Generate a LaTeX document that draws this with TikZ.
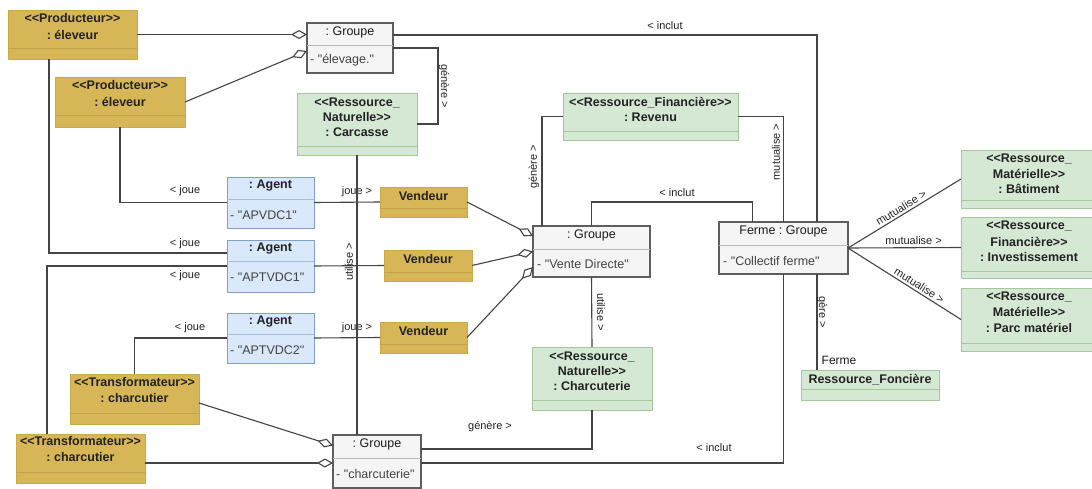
\documentclass[tikz,border=0pt]{standalone}
\usepackage{fontspec}
\setmainfont{Liberation Sans}[Ligatures=TeXOff]
\usetikzlibrary{arrows.meta,calc}
\definecolor{goldf}{HTML}{D6B656}
\definecolor{goldd}{HTML}{C9A94A}
\definecolor{goldsep}{HTML}{C2A24A}
\definecolor{greenf}{HTML}{D5E8D4}
\definecolor{greend}{HTML}{A6C79C}
\definecolor{bluef}{HTML}{DAE8FC}
\definecolor{blued}{HTML}{7F9FCC}
\definecolor{greyf}{HTML}{F5F5F5}
\definecolor{greyd}{HTML}{5E5E5E}
\definecolor{linec}{HTML}{444444}
\definecolor{txtc}{HTML}{222222}
\newcommand\obox[6]{\node[#1,minimum width={#5pt-#3pt},minimum height={#6pt-#4pt}] (#2) at (#3,#4) {};}
\newcommand\osep[3]{\draw[#3] (#1.west |- 0,#2) -- (#1.east |- 0,#2);}
\begin{document}
\frenchspacing
\begin{tikzpicture}[x=1pt,y=-1pt,
  objbox/.style={anchor=north west,inner sep=0pt,outer sep=0pt},
  goldbox/.style={objbox,fill=goldf,draw=goldd,line width=0.6pt},
  greenbox/.style={objbox,fill=greenf,draw=greend,line width=0.8pt},
  bluebox/.style={objbox,fill=bluef,draw=blued,line width=0.8pt},
  greybox/.style={objbox,fill=greyf,draw=greyd,line width=1.3pt},
  gsep/.style={draw=goldsep,line width=0.8pt},
  grsep/.style={draw=greend,line width=0.8pt},
  bsep/.style={draw=blued!70,line width=0.7pt},
  gysep/.style={draw=greyd!45,line width=0.8pt},
  hdr/.style={inner sep=0pt,yshift=-1.5pt,text=txtc,font=\fontsize{12.5}{14}\selectfont\bfseries},
  hdrn/.style={inner sep=0pt,yshift=-1.5pt,text=txtc!80!black,font=\fontsize{12.5}{14}\selectfont},
  attr/.style={inner sep=0pt,yshift=-1.5pt,anchor=west,text=txtc!85,font=\fontsize{12.5}{14}\selectfont},
  lbl/.style={inner sep=0pt,text=txtc,font=\fontsize{11}{13}\selectfont},
  conn/.style={draw=linec,line width=1.1pt},
  agg/.style={conn,-{Diamond[open,length=16pt,width=9pt,line width=1.1pt]}}
]
\useasboundingbox (0,0) rectangle (1092,489);
\fill[white] (0,0) rectangle (1092,489);

% ---------- boxes ----------
% Producteurs
\obox{goldbox}{p1}{8}{10}{137}{59}
\osep{p1}{48}{gsep}
\node[hdr] (p1a) at (p1.north |- 0,17) {<<Producteur>>};
\node[hdr] (p1b) at (p1.north |- 0,33) {: éleveur};
\obox{goldbox}{p2}{55}{77}{185}{127}
\osep{p2}{115}{gsep}
\node[hdr] (p2a) at (p2.north |- 0,84) {<<Producteur>>};
\node[hdr] (p2b) at (p2.north |- 0,100) {: éleveur};
% Groupe elevage
\obox{greybox}{g1}{307}{23}{393}{73}
\osep{g1}{45}{gysep}
\node[hdrn] (g1a) at (g1.north |- 0,31) {: Groupe};
\node[attr] (g1b) at (310,59) {- "élevage."};
% Carcasse
\obox{greenbox}{carc}{297}{93}{417}{155}
\osep{carc}{146}{grsep}
\node[hdr] (carca) at (carc.north |- 0,101) {<<Ressource\_};
\node[hdr] (carcb) at (carc.north |- 0,116) {Naturelle>>};
\node[hdr] (carcc) at (carc.north |- 0,131) {: Carcasse};
% Revenu
\obox{greenbox}{rev}{563}{93}{738}{140}
\osep{rev}{131}{grsep}
\node[hdr] (reva) at (rev.north |- 0,101) {<<Ressource\_Financière>>};
\node[hdr] (revb) at (rev.north |- 0,116) {: Revenu};
% Agents
\obox{bluebox}{a1}{227}{177}{314}{228}
\osep{a1}{199}{bsep}
\node[hdr] (a1a) at (a1.north |- 0,184) {: Agent};
\node[attr] (a1b) at (230,214) {- "APVDC1"};
\obox{bluebox}{a2}{227}{240}{314}{292}
\osep{a2}{261}{bsep}
\node[hdr] (a2a) at (a2.north |- 0,247) {: Agent};
\node[attr] (a2b) at (230,276) {- "APTVDC1"};
\obox{bluebox}{a3}{227}{313}{314}{363}
\osep{a3}{334}{bsep}
\node[hdr] (a3a) at (a3.north |- 0,320) {: Agent};
\node[attr] (a3b) at (230,349) {- "APTVDC2"};
% Vendeurs
\obox{goldbox}{v1}{380}{187}{467}{217}
\osep{v1}{208}{gsep}
\node[hdr] (v1a) at (v1.north |- 0,195) {Vendeur};
\obox{goldbox}{v2}{384}{250}{472}{281}
\osep{v2}{272}{gsep}
\node[hdr] (v2a) at (v2.north |- 0,258) {Vendeur};
\obox{goldbox}{v3}{380}{322}{467}{353}
\osep{v3}{344}{gsep}
\node[hdr] (v3a) at (v3.north |- 0,330) {Vendeur};
% Groupe vente directe
\obox{greybox}{gv}{533}{226}{650}{277}
\osep{gv}{249}{gysep}
\node[hdrn] (gva) at (gv.north |- 0,234) {: Groupe};
\node[attr] (gvb) at (537,263) {- "Vente Directe"};
% Charcuterie
\obox{greenbox}{charc}{532}{347}{652}{410}
\osep{charc}{400}{grsep}
\node[hdr] (charca) at (charc.north |- 0,355) {<<Ressource\_};
\node[hdr] (charcb) at (charc.north |- 0,370) {Naturelle>>};
\node[hdr] (charcc) at (charc.north |- 0,385) {: Charcuterie};
% Ferme
\obox{greybox}{ferme}{719}{222}{848}{274}
\osep{ferme}{245}{gysep}
\node[hdrn] (fermea) at (ferme.north |- 0,230) {Ferme : Groupe};
\node[attr] (fermeb) at (723,260) {- "Collectif ferme"};
% Ressource fonciere
\obox{greenbox}{rf}{801}{370}{939}{400}
\osep{rf}{389}{grsep}
\node[hdr] (rfa) at (rf.north |- 0,378) {Ressource\_Foncière};
% Right resources
\obox{greenbox}{bat}{961}{150}{1096}{208}
\osep{bat}{200}{grsep}
\node[hdr] (bata) at (1029,157) {<<Ressource\_};
\node[hdr] (batb) at (1029,172) {Matérielle>>};
\node[hdr] (batc) at (1029,187) {: Bâtiment};
\obox{greenbox}{inv}{961}{217}{1096}{278}
\osep{inv}{271}{grsep}
\node[hdr] (inva) at (1029,224) {<<Ressource\_};
\node[hdr] (invb) at (1029,240) {Financière>>};
\node[hdr] (invc) at (1029,256) {: Investissement};
\obox{greenbox}{parc}{961}{288}{1096}{351}
\osep{parc}{343}{grsep}
\node[hdr] (parca) at (1029,295) {<<Ressource\_};
\node[hdr] (parcb) at (1029,310) {Matérielle>>};
\node[hdr] (parcc) at (1029,326) {: Parc matériel};
% Transformateurs
\obox{goldbox}{t1}{70}{374}{199}{424}
\osep{t1}{413}{gsep}
\node[hdr] (t1a) at (t1.north |- 0,381) {<<Transformateur>>};
\node[hdr] (t1b) at (t1.north |- 0,397) {: charcutier};
\obox{goldbox}{t2}{16}{434}{145}{483}
\osep{t2}{472}{gsep}
\node[hdr] (t2a) at (t2.north |- 0,440) {<<Transformateur>>};
\node[hdr] (t2b) at (t2.north |- 0,456) {: charcutier};
% Groupe charcuterie
\obox{greybox}{gc}{333}{435}{421}{488}
\osep{gc}{458}{gysep}
\node[hdrn] (gca) at (gc.north |- 0,443) {: Groupe};
\node[attr] (gcb) at (336,473) {- "charcuterie"};

% ---------- connectors ----------
\coordinate (cInclTop) at ($(ferme.north)+(33.5,0)$);
\coordinate (cInclMid) at ($(ferme.north)+(-31,0)$);
\coordinate (cGere) at ($(ferme.south)+(33.5,0)$);

% aggregations
\draw[agg] (p1.east) -- (g1.west |- p1.east);
\draw[agg] (p2.east) -- ([yshift=-3pt]g1.west);
\draw[agg] (v1.east) -- ([yshift=15.5pt]gv.west);
\draw[agg] (v2.east) -- (gv.west);
\draw[agg] (v3.east) -- ([yshift=-15.5pt]gv.west);
\draw[agg] ([yshift=-4pt]t1.east) -- ([yshift=16pt]gc.west);
\draw[agg] ([yshift=-4.5pt]t2.east) -- ([yshift=-1.5pt]gc.west);

% groupe elevage
\draw[conn] ([yshift=13pt]g1.east) -| (cInclTop);
\node[lbl] (lInclTop) at (665,26) {< inclut};
\draw[conn] (g1.east) -- ++(45,0) |- (carc.east);
\node[lbl,rotate=-90] (lGen1) at (444,86) {génère >};

% revenu
\draw[conn] ([xshift=-49.5pt]gv.north) |- (rev.west);
\node[lbl,rotate=90] (lGen2) at (534,167) {génère >};
\draw[conn] (rev.east) -| (ferme.north);
\node[lbl,rotate=90] (lMut0) at (776,152) {mutualise >};

% vente directe
\draw[conn] (gv.north) -- ++(0,-24) -| (cInclMid);
\node[lbl] (lInclMid) at (677,193) {< inclut};
\draw[conn] (gv.south) -- (charc.north);
\node[lbl,rotate=-90] (lUtil2) at (601,312) {utilise >};

% ferme
\draw[conn] (cGere) -- (cGere |- rf.north);
\node[lbl,rotate=-90] (lGere) at (822,312) {gère >};
\node[hdrn,font=\fontsize{12}{14}\selectfont] (lFerme) at (839,359) {Ferme};
\draw[conn] (ferme.east) -- node[lbl,sloped,above=2pt,pos=0.5] (lMut1) {mutualise >} (bat.west);
\draw[conn] (ferme.east) -- node[lbl,above=3pt,pos=0.58] (lMut2) {mutualise >} (inv.west);
\draw[conn] (ferme.east) -- node[lbl,sloped,above=2pt,pos=0.6] (lMut3) {mutualise >} (parc.west);

% agents - vendeurs
\draw[conn] (a1.east) -- (v1.west);
\node[lbl] (lJ1) at (357,192) {joue >};
\draw[conn] (a2.east) -- (v2.west);
\draw[conn] (a3.east) -- (v3.west);
\node[lbl] (lJ2) at (357,328) {joue >};

% producteurs / transformateurs - agents
\draw[conn] (p2.south) |- (a1.west);
\node[lbl] (lJ3) at (185,191) {< joue};
\draw[conn] ([xshift=-23.5pt]p1.south) |- ([yshift=13pt]a2.west);
\node[lbl] (lJ4) at (185,244) {< joue};
\draw[conn] ([xshift=-33.5pt]t2.north) |- (a2.west);
\node[lbl] (lJ5) at (185,276) {< joue};
\draw[conn] (t1.north) |- (a3.west);
\node[lbl] (lJ6) at (190,328) {< joue};

% carcasse - groupe charcuterie
\draw[conn] (carc.south) -- (carc.south |- gc.north);
\node[lbl,rotate=90] (lUtil1) at (349,262) {utilise >};

% groupe charcuterie
\draw[conn] ([yshift=12.5pt]gc.east) -| (charc.south);
\node[lbl] (lGen3) at (490,427) {génère >};
\draw[conn] ([yshift=-1.5pt]gc.east) -| (ferme.south);
\node[lbl] (lInclBot) at (714,448) {< inclut};
\end{tikzpicture}
\end{document}
